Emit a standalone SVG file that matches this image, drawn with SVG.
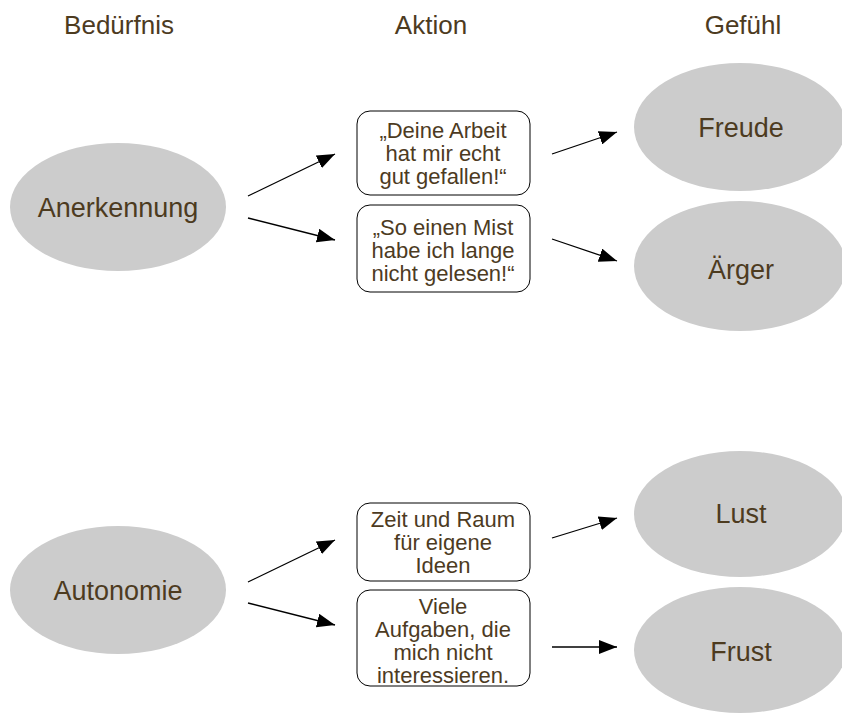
<svg xmlns="http://www.w3.org/2000/svg" width="842" height="713" viewBox="0 0 842 713">
<style>
text{font-family:"Liberation Sans",Arial,sans-serif;fill:#4d3b1f;text-anchor:middle}
.h{font-size:26px}
.l{font-size:27px}
.b{font-size:22px}
.ell{fill:#cccccc}
.box{fill:#ffffff;stroke:#000000;stroke-width:1}
.c{stroke:#000000;stroke-width:1.3;fill:none;marker-end:url(#ah)}
</style>
<defs>
<marker id="ah" markerWidth="19" markerHeight="14" refX="18" refY="7" orient="auto" markerUnits="userSpaceOnUse">
<path d="M0,0 L18,7 L0,14 Z" fill="#000000"/>
</marker>
</defs>
<rect width="842" height="713" fill="#ffffff"/>
<g id="headers">
<text class="h" x="119" y="34">Bedürfnis</text>
<text class="h" x="431" y="34">Aktion</text>
<text class="h" x="743" y="34">Gefühl</text>
</g>
<g id="connectors">
<line class="c" x1="248" y1="196" x2="335" y2="154"/>
<line class="c" x1="248" y1="218" x2="335" y2="240"/>
<line class="c" x1="552" y1="154" x2="617" y2="132"/>
<line class="c" x1="552" y1="239" x2="617" y2="261"/>
<line class="c" x1="248" y1="582" x2="335" y2="540"/>
<line class="c" x1="248" y1="603" x2="335" y2="625"/>
<line class="c" x1="552" y1="538" x2="617" y2="518"/>
<line class="c" x1="552" y1="647" x2="617" y2="647"/>
</g>
<g id="anerkennung">
<ellipse class="ell" cx="118" cy="207" rx="108" ry="64"/>
<text class="l" x="118" y="217">Anerkennung</text>
</g>
<g id="autonomie">
<ellipse class="ell" cx="118" cy="590" rx="108" ry="64"/>
<text class="l" x="118" y="600">Autonomie</text>
</g>
<g id="aktion1">
<rect class="box" x="357" y="111" width="173" height="84" rx="13"/>
<text class="b" x="443" y="138">„Deine Arbeit</text>
<text class="b" x="443" y="161">hat mir echt</text>
<text class="b" x="443" y="184">gut gefallen!“</text>
</g>
<g id="aktion2">
<rect class="box" x="357" y="205" width="173" height="87" rx="13"/>
<text class="b" x="443" y="235">„So einen Mist</text>
<text class="b" x="443" y="258">habe ich lange</text>
<text class="b" x="443" y="281">nicht gelesen!“</text>
</g>
<g id="aktion3">
<rect class="box" x="357" y="503" width="173" height="78" rx="13"/>
<text class="b" x="443" y="527">Zeit und Raum</text>
<text class="b" x="443" y="550">für eigene</text>
<text class="b" x="443" y="573">Ideen</text>
</g>
<g id="aktion4">
<rect class="box" x="357" y="590" width="173" height="96" rx="13"/>
<text class="b" x="443" y="614">Viele</text>
<text class="b" x="443" y="637">Aufgaben, die</text>
<text class="b" x="443" y="660">mich nicht</text>
<text class="b" x="443" y="683">interessieren.</text>
</g>
<g id="freude">
<ellipse class="ell" cx="740" cy="127" rx="106" ry="64"/>
<text class="l" x="741" y="137">Freude</text>
</g>
<g id="aerger">
<ellipse class="ell" cx="740" cy="266" rx="106" ry="65"/>
<text class="l" x="741" y="279">Ärger</text>
</g>
<g id="lust">
<ellipse class="ell" cx="740" cy="514" rx="106" ry="63"/>
<text class="l" x="741" y="523">Lust</text>
</g>
<g id="frust">
<ellipse class="ell" cx="740" cy="650" rx="106" ry="63"/>
<text class="l" x="741" y="661">Frust</text>
</g>
</svg>
